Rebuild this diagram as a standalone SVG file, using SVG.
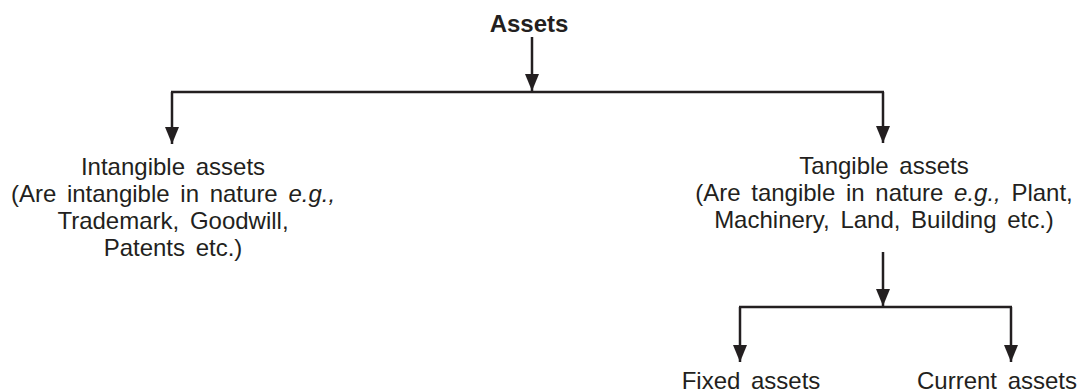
<svg xmlns="http://www.w3.org/2000/svg" width="1079" height="392" viewBox="0 0 1079 392">
<defs>
<style>
.t{font-family:"Liberation Sans",Arial,sans-serif;font-size:24px;fill:#231f20;text-anchor:middle;word-spacing:4px}
.b{font-weight:bold;word-spacing:0}
.i{font-style:italic}
.c{stroke:#231f20;stroke-width:2.5;fill:none}
</style>
<marker id="ah" markerUnits="userSpaceOnUse" markerWidth="18" markerHeight="16" refX="17" refY="8" orient="auto" viewBox="0 0 18 16">
<path d="M0,1 L17,8 L0,15 Z" fill="#231f20"/>
</marker>
</defs>
<rect width="1079" height="392" fill="#fff"/>
<g id="connectors">
<line class="c" x1="532" y1="37" x2="532" y2="91" marker-end="url(#ah)"/>
<line class="c" x1="171" y1="92" x2="884" y2="92"/>
<line class="c" x1="172" y1="92" x2="172" y2="144" marker-end="url(#ah)"/>
<line class="c" x1="883" y1="92" x2="883" y2="143" marker-end="url(#ah)"/>
<line class="c" x1="883" y1="252" x2="883" y2="306" marker-end="url(#ah)"/>
<line class="c" x1="739" y1="307" x2="1012" y2="307"/>
<line class="c" x1="740" y1="307" x2="740" y2="362" marker-end="url(#ah)"/>
<line class="c" x1="1011" y1="307" x2="1011" y2="362" marker-end="url(#ah)"/>
</g>
<g id="assets">
<text class="t b" x="529" y="32">Assets</text>
</g>
<g id="intangible">
<text class="t" x="173" y="175">Intangible assets</text>
<text class="t" x="173" y="202">(Are intangible in nature <tspan class="i">e.g.,</tspan></text>
<text class="t" x="173" y="229">Trademark, Goodwill,</text>
<text class="t" x="173" y="256">Patents etc.)</text>
</g>
<g id="tangible">
<text class="t" x="884" y="174">Tangible assets</text>
<text class="t" x="884" y="201">(Are tangible in nature <tspan class="i">e.g.,</tspan> Plant,</text>
<text class="t" x="884" y="228">Machinery, Land, Building etc.)</text>
</g>
<g id="fixed">
<text class="t" x="751" y="389">Fixed assets</text>
</g>
<g id="current">
<text class="t" x="997" y="389">Current assets</text>
</g>
</svg>
